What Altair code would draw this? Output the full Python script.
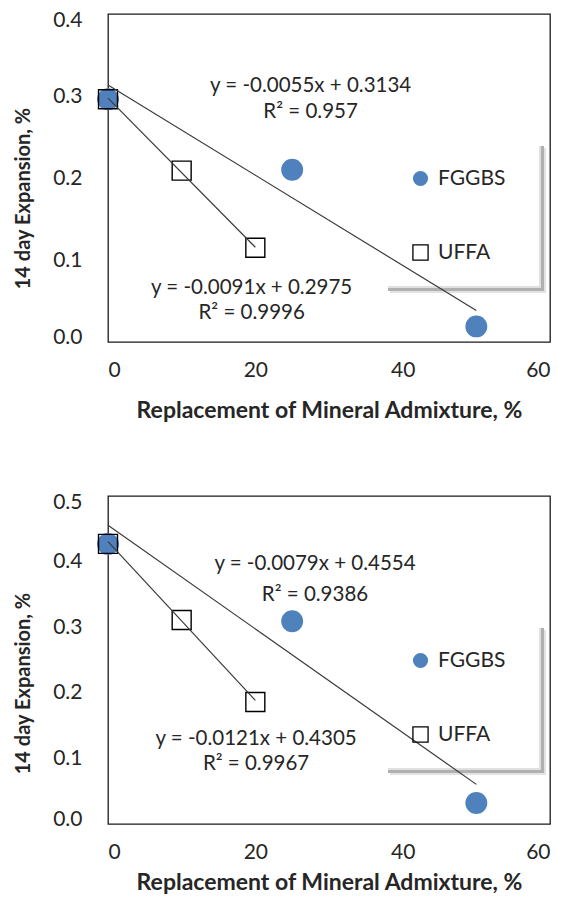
import altair as alt
import pandas as pd

FONT = "Lato"
BLUE = "#4F81BD"
INK = "#262626"
SERIES = ["FGGBS", "UFFA"]
X_TICKS = [0, 20, 40, 60]

# Upper panel
a_fggbs_x = [0, 25, 50]
a_fggbs_y = [0.296, 0.210, 0.019]
a_uffa_x = [0, 10, 20]
a_uffa_y = [0.296, 0.209, 0.115]
a_slope = [-0.0055, -0.0091]
a_intercept = [0.3134, 0.2975]
a_r2 = [0.957, 0.9996]
a_label_x = [27.5, 19.5]
a_label_y = [[0.312, 0.2805], [0.066, 0.0354]]
a_y_ticks = [0.0, 0.1, 0.2, 0.3, 0.4]

# Lower panel
b_fggbs_x = [0, 25, 50]
b_fggbs_y = [0.427, 0.309, 0.032]
b_uffa_x = [0, 10, 20]
b_uffa_y = [0.427, 0.311, 0.186]
b_slope = [-0.0079, -0.0121]
b_intercept = [0.4554, 0.4305]
b_r2 = [0.9386, 0.9967]
b_label_x = [28.1, 20.1]
b_label_y = [[0.3966, 0.3494], [0.1293, 0.0909]]
b_y_ticks = [0.0, 0.1, 0.2, 0.3, 0.4, 0.5]


def shadow_band(x0, x1, y0, y1, color):
    return alt.Chart(pd.DataFrame({"k": [0]})).mark_rect(color=color).encode(
        x=alt.value(x0), x2=alt.value(x1), y=alt.value(y0), y2=alt.value(y1)
    )


def panel(fx, fy, ux, uy, slope, intercept, r2, lab_x, lab_y, y_ticks, x_title_y, y_title_y):
    pts = pd.DataFrame({
        "series": ["FGGBS"] * len(fx) + ["UFFA"] * len(ux),
        "x": fx + ux,
        "y": fy + uy,
    })

    # trend lines from the fitted coefficients, spanning each series' x range
    ends = {"FGGBS": (min(fx), max(fx)), "UFFA": (min(ux), max(ux))}
    rows = []
    for s, m, b in zip(SERIES, slope, intercept):
        for xv in ends[s]:
            rows.append({"series": s, "x": xv, "y": m * xv + b})
    trend = pd.DataFrame(rows)

    lab_rows = []
    for m, b, r, lx, (ly1, ly2) in zip(slope, intercept, r2, lab_x, lab_y):
        lab_rows.append({"x": lx, "y": ly1, "text": f"y = {m:g}x + {b:g}"})
        lab_rows.append({"x": lx, "y": ly2, "text": f"R\u00b2 = {r:g}"})
    labels = pd.DataFrame(lab_rows)

    x_enc = alt.X("x:Q", scale=alt.Scale(domain=[0, 60], nice=False),
                  axis=alt.Axis(values=X_TICKS, format="d",
                                title="Replacement of Mineral Admixture, %",
                                titleY=x_title_y, titleBaseline="middle",
                                titleFontSize=23))
    y_enc = alt.Y("y:Q", scale=alt.Scale(domain=[0, y_ticks[-1]], nice=False),
                  axis=alt.Axis(values=y_ticks, format=".1f",
                                title="14 day Expansion, %",
                                titleX=-85, titleY=y_title_y,
                                titleBaseline="middle", titleFontSize=20,
                                labelFlush=True, labelFlushOffset=5))

    legend = alt.Legend(orient="none", legendX=302, legendY=154, title=None,
                        symbolSize=230, symbolStrokeWidth=1.3,
                        labelFont=FONT, labelFontSize=21, labelColor=INK,
                        labelOffset=7, rowPadding=52, padding=0)
    shape = alt.Shape("series:N", scale=alt.Scale(domain=SERIES, range=["circle", "square"]), legend=legend)
    fill = alt.Fill("series:N", scale=alt.Scale(domain=SERIES, range=[BLUE, "transparent"]), legend=legend)
    stroke = alt.Stroke("series:N", scale=alt.Scale(domain=SERIES, range=["transparent", "#000000"]), legend=legend)

    base = alt.Chart(pts)
    circles = base.transform_filter(alt.datum.series == "FGGBS").mark_point(
        size=480, opacity=1, strokeWidth=0
    ).encode(x=x_enc, y=y_enc, shape=shape, fill=fill, stroke=stroke)
    squares = base.transform_filter(alt.datum.series == "UFFA").mark_point(
        size=360, opacity=1, strokeWidth=1.4
    ).encode(x=x_enc, y=y_enc, shape=shape, fill=fill, stroke=stroke)

    lines = alt.Chart(trend).mark_line(color="#3a3a3a", strokeWidth=1.2).encode(
        x="x:Q", y="y:Q", detail="series:N"
    )
    text = alt.Chart(labels).mark_text(
        font=FONT, fontSize=20.5, color=INK, align="center", baseline="middle"
    ).encode(x="x:Q", y="y:Q", text="text:N")

    # soft drop shadow along the right and bottom edges of the legend box
    shadow = [
        shadow_band(436, 438, 134, 279, "#e2e2e2"),
        shadow_band(282, 438, 277, 279, "#e2e2e2"),
        shadow_band(431, 433, 132, 272, "#e0e0e0"),
        shadow_band(280, 433, 272, 274, "#e0e0e0"),
        shadow_band(433, 436, 132, 277, "#b0b0b0"),
        shadow_band(280, 436, 274, 277, "#b0b0b0"),
    ]

    return alt.layer(*shadow, circles, squares, lines, text).properties(
        width=442, height=328
    )


top = panel(a_fggbs_x, a_fggbs_y, a_uffa_x, a_uffa_y, a_slope, a_intercept, a_r2,
            a_label_x, a_label_y, a_y_ticks, 68, 184)
bottom = panel(b_fggbs_x, b_fggbs_y, b_uffa_x, b_uffa_y, b_slope, b_intercept, b_r2,
               b_label_x, b_label_y, b_y_ticks, 58, 187)

chart = alt.vconcat(top, bottom, spacing=67).resolve_scale(
    x="independent", y="independent", shape="independent", fill="independent", stroke="independent"
).resolve_legend(
    shape="independent", fill="independent", stroke="independent"
).configure(
    background="white",
    padding={"left": 12, "top": 8, "right": 4, "bottom": 2},
).configure_view(
    stroke="#1a1a1a", strokeWidth=1.3
).configure_axis(
    grid=False, ticks=False, domain=False, tickSize=0,
    labelFont=FONT, labelFontSize=21, labelColor=INK,
    titleFont=FONT, titleFontWeight="bold", titleColor=INK,
).configure_axisX(
    labelPadding=17
).configure_axisY(
    labelPadding=26
)

chart.save("out.html", embed_options={"renderer": "svg", "actions": False})
